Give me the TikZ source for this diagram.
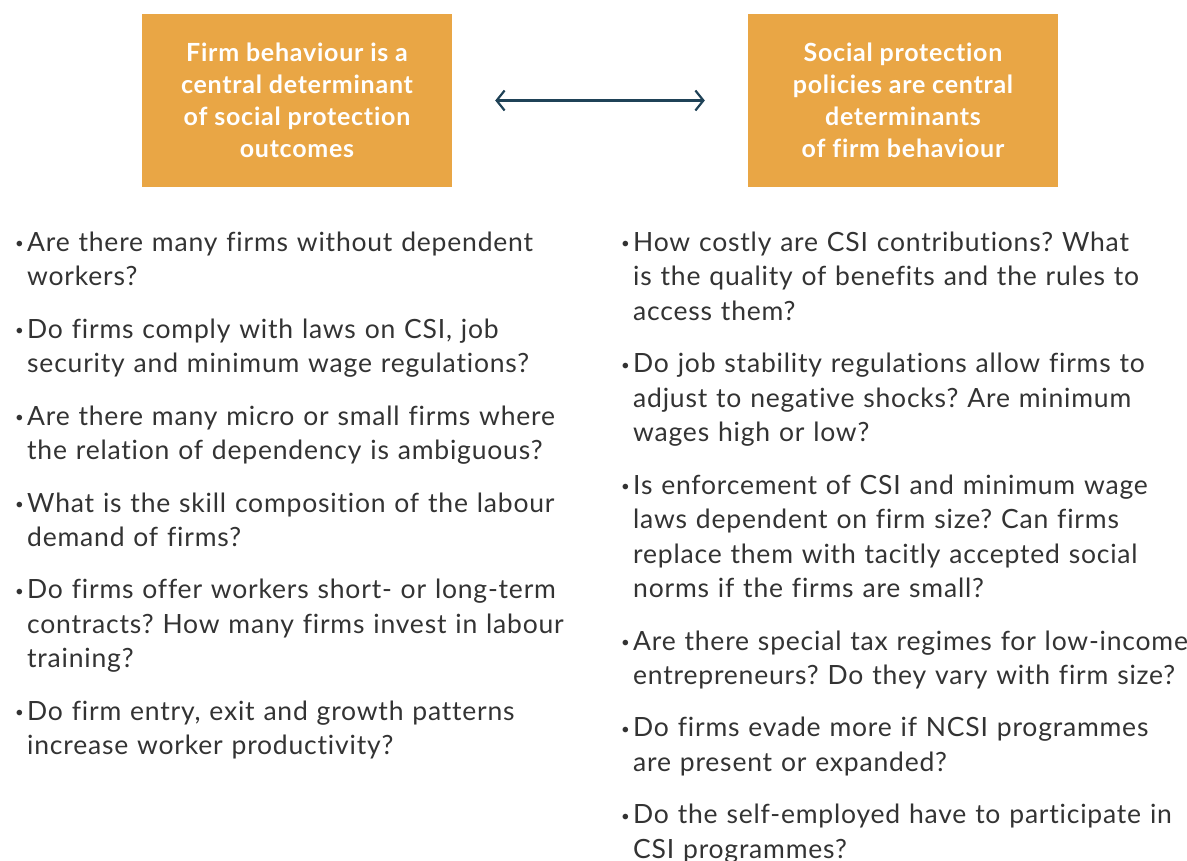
\documentclass[tikz,border=0pt]{standalone}
\usepackage{fontspec}
\setmainfont{Lato}[Ligatures=NoCommon, LetterSpace=3]
\frenchspacing
\usetikzlibrary{arrows.meta,positioning}
\definecolor{boxfill}{HTML}{E9A645}
\definecolor{arrowcol}{HTML}{1F4257}
\definecolor{bodytext}{HTML}{333333}
\newcommand{\bul}{\llap{\makebox[12pt][l]{\raisebox{0.1em}{\fontsize{15}{15}\selectfont\textbullet}}}}

\tikzset{
  headbox/.style={fill=boxfill, text=white, minimum width=310pt, minimum height=173pt,
    align=center, font=\bfseries\fontsize{25}{32}\selectfont, inner sep=0pt},
  question/.style={anchor=north west, text width=570pt, align=left, inner sep=0pt,
    text=bodytext, font=\fontsize{26.5}{34.5}\selectfont},
}

\begin{document}
\begin{tikzpicture}[x=1pt,y=1pt,node distance=17.5pt]
  \useasboundingbox (0,0) rectangle (1187,-861);

  % Header boxes
  \node[headbox] (firm) at (297,-100.5) {Firm behaviour is a\\central determinant\\of social protection\\outcomes};
  \node[headbox] (policy) at (903,-100.5) {Social protection\\policies are central\\determinants\\of firm behaviour};

  % Two-way arrow
  \draw[arrowcol, line width=2.2pt, {Straight Barb[length=8pt,width=20pt]}-{Straight Barb[length=8pt,width=20pt]},
    shorten <=43pt, shorten >=43pt] (firm.east) -- (policy.west);

  % Left column
  \node[question] (l1) at (27,-227) {\strut\bul Are there many firms without dependent\\workers?\strut};
  \node[question, below=of l1.south west, anchor=north west] (l2) {\strut\bul Do firms comply with laws on CSI, job\\security and minimum wage regulations?\strut};
  \node[question, below=of l2.south west, anchor=north west] (l3) {\strut\bul Are there many micro or small firms where\\the relation of dependency is ambiguous?\strut};
  \node[question, below=of l3.south west, anchor=north west] (l4) {\strut\bul What is the skill composition of the labour\\demand of firms?\strut};
  \node[question, below=of l4.south west, anchor=north west] (l5) {\strut\bul Do firms offer workers short- or long-term\\contracts? How many firms invest in labour\\training?\strut};
  \node[question, below=of l5.south west, anchor=north west] (l6) {\strut\bul Do firm entry, exit and growth patterns\\increase worker productivity?\strut};

  % Right column
  \node[question] (r1) at (633,-227) {\strut\bul How costly are CSI contributions? What\\is the quality of benefits and the rules to\\access them?\strut};
  \node[question, below=of r1.south west, anchor=north west] (r2) {\strut\bul Do job stability regulations allow firms to\\adjust to negative shocks? Are minimum\\wages high or low?\strut};
  \node[question, below=of r2.south west, anchor=north west] (r3) {\strut\bul Is enforcement of CSI and minimum wage\\laws dependent on firm size? Can firms\\replace them with tacitly accepted social\\norms if the firms are small?\strut};
  \node[question, below=of r3.south west, anchor=north west] (r4) {\strut\bul Are there special tax regimes for low-income\\entrepreneurs? Do they vary with firm size?\strut};
  \node[question, below=of r4.south west, anchor=north west] (r5) {\strut\bul Do firms evade more if NCSI programmes\\are present or expanded?\strut};
  \node[question, below=of r5.south west, anchor=north west] (r6) {\strut\bul Do the self-employed have to participate in\\CSI programmes?\strut};
\end{tikzpicture}
\end{document}
